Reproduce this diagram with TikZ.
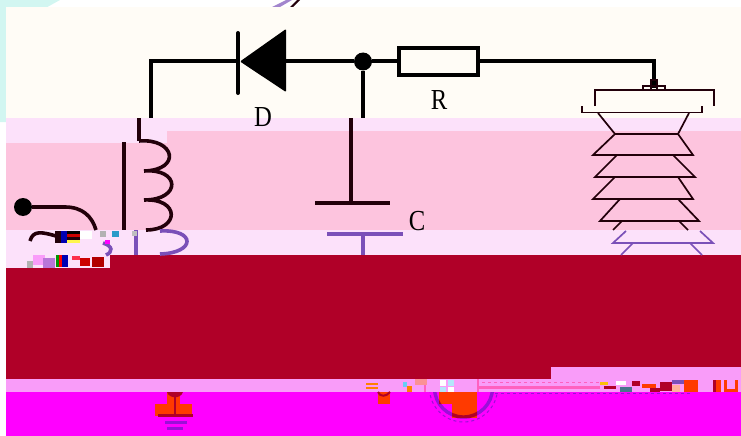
\documentclass[tikz,border=0pt]{standalone}
\usepackage{fontspec}
\setmainfont{Liberation Serif}
\definecolor{creamband}{HTML}{FFFCF6}
\definecolor{paleband}{HTML}{FCE1FA}
\definecolor{pinkband}{HTML}{FDC4DE}
\definecolor{redband}{HTML}{B00028}
\definecolor{lilacband}{HTML}{F99CF9}
\definecolor{magentaband}{HTML}{FF00FF}
\definecolor{paleside}{HTML}{D2F6F1}
\definecolor{wireviolet}{HTML}{7A50B8}
\definecolor{wiredark}{HTML}{22000A}
\definecolor{patchred}{HTML}{FF3A00}
\definecolor{groundviolet}{HTML}{9A10D8}
\definecolor{tracepink}{HTML}{FF60C0}
\tikzstyle{wire}=[line width=4pt, black]
\tikzstyle{darkwire}=[line width=3.6pt, wiredark]
\tikzstyle{violetwire}=[line width=3.6pt, wireviolet]
\tikzstyle{thinwire}=[line width=1.7pt, wiredark]
\tikzstyle{thinviolet}=[line width=1.7pt, wireviolet]
\tikzstyle{junction}=[circle, fill=black, draw=none, inner sep=0, minimum size=18pt]
\tikzstyle{resistor}=[draw, line width=4.5pt, fill=creamband, inner sep=0, minimum width=79pt, minimum height=27pt]
\tikzstyle{complabel}=[inner sep=0, transform shape, xscale=0.85, font=\fontsize{29}{29}\selectfont]
\tikzstyle{ring}=[circle, inner sep=0, line width=3.4pt, minimum size=58pt]
\begin{document}
\begin{tikzpicture}[x=1pt, y=-1pt]
        \useasboundingbox (0, 0) rectangle (741, 436);
        % Colour bands.
        \fill[paleside] (0, 0) -- (60, 0) -- (6, 30) -- (6, 122) -- (0, 122) -- cycle;
        \fill[creamband] (6, 7) rectangle (741, 118);
        \fill[paleband] (6, 118) rectangle (741, 143);
        \fill[pinkband] (167, 131) rectangle (741, 143);
        \fill[pinkband] (6, 143) rectangle (741, 230);
        \fill[paleband] (6, 230) rectangle (741, 255);
        \fill[paleband] (6, 255) rectangle (110, 268);
        \fill[redband] (110, 255) rectangle (741, 268);
        \fill[redband] (6, 268) rectangle (741, 379);
        \fill[lilacband] (6, 379) rectangle (741, 392);
        \fill[lilacband] (551, 367) rectangle (741, 379);
        \fill[magentaband] (6, 392) rectangle (741, 436);
        \fill[wireviolet!70!white] (272, 7) -- (286, 0) -- (292, 0) -- (280, 7) -- cycle;
        \fill[wiredark] (290, 7) -- (297, 0) -- (300, 0) -- (293, 7) -- cycle;
        % Upper wiring.
        \node[junction] (Dot) at (363, 61.5) {};
        \node[resistor] (Res) at (438.5, 61.5) {};
        \coordinate (DiodeBack) at (286, 61.5);
        \coordinate (DiodeTip) at (240, 61.5);
        \coordinate (LeftCorner) at (151, 61.5);
        \coordinate (LeftEnd) at (151, 118);
        \coordinate (DotEnd) at (363, 118);
        \coordinate (PostCorner) at (654, 61.5);
        \coordinate (PostEnd) at (654, 88);
        \draw[wire] (Dot) -- (DiodeBack);
        \draw[wire] (DiodeTip) -- (LeftCorner) -- (LeftEnd);
        \draw[wire] (Dot) -- (DotEnd);
        \draw[wire] (Dot) -- (Res);
        \draw[wire] (Res) -- (PostCorner) -- (PostEnd);
        \fill[black, rounded corners=1pt] (DiodeTip) -- (286, 29) -- (286, 92) -- cycle;
        \draw[wire, line cap=round] (238, 33) -- (238, 93);
        \node[complabel] (LabelD) at (263, 117) {D};
        \node[complabel] (LabelR) at (439, 100) {R};
        \node[complabel] (LabelC) at (417, 221) {C};
        % Coil and core.
        \coordinate (CoilTop) at (139, 118);
        \coordinate (CoilStart) at (139, 141);
        \coordinate (CoreTop) at (124, 142);
        \coordinate (CoreEnd) at (124, 230);
        \coordinate (CoreLow) at (136, 230);
        \coordinate (CoreLowEnd) at (136, 255);
        \draw[darkwire] (CoilTop) -- (CoilStart);
        \draw[darkwire] (CoilStart) .. controls (175, 138) and (182, 170) .. (144, 171)
            .. controls (180, 168) and (182, 200) .. (144, 200)
            .. controls (180, 198) and (180, 230) .. (146, 230);
        \draw[darkwire] (CoreTop) -- (CoreEnd);
        \draw[violetwire] (CoreLow) -- (CoreLowEnd);
        \draw[violetwire] (160, 231) .. controls (196, 229) and (196, 253) .. (160, 254);
        \draw[violetwire] (103, 243) .. controls (113, 246) and (113, 252) .. (106, 255);
        % Left terminal.
        \node[junction] (Terminal) at (23, 207) {};
        \coordinate (TerminalEnd) at (96, 230);
        \draw[darkwire] (Terminal) -- (65, 207) .. controls (82, 207) and (92, 216) .. (TerminalEnd);
        \coordinate (SquiggleStart) at (30, 241);
        \coordinate (SquiggleEnd) at (56, 236);
        \draw[darkwire] (SquiggleStart) .. controls (33, 230) and (42, 232) .. (SquiggleEnd);
        % Capacitor.
        \coordinate (CapTop) at (351, 118);
        \coordinate (PlateA) at (315, 203);
        \coordinate (PlateB) at (390, 203);
        \coordinate (PlateC) at (327, 234);
        \coordinate (PlateD) at (403, 234);
        \coordinate (CapBottom) at (363, 234);
        \coordinate (CapEnd) at (363, 255);
        \draw[darkwire] (CapTop) -- (351, 203);
        \draw[darkwire] (PlateA) -- (PlateB);
        \draw[violetwire] (PlateC) -- (PlateD);
        \draw[violetwire] (CapBottom) -- (CapEnd);
        % Insulator.
        \draw[thinwire] (643, 90) -- (643, 86) -- (665, 86) -- (665, 90);
        \draw[thinwire] (651, 90) -- (651, 80) -- (657, 80) -- (657, 90);
        \draw[thinwire] (595, 106) -- (595, 90) -- (714, 90) -- (714, 106);
        \draw[thinwire] (582, 106) -- (582, 112.5) -- (702, 112.5) -- (702, 106);
        \draw[thinwire] (598, 113) -- (615, 134) -- (678, 134) -- (689, 113);
        \draw[thinwire] (615, 134) -- (593, 155) -- (693, 155) -- (678, 134);
        \draw[thinwire] (617, 155) -- (595, 177) -- (695, 177) -- (673, 155);
        \draw[thinwire] (615, 177) -- (593, 199) -- (693, 199) -- (678, 177);
        \draw[thinwire] (620, 199) -- (600, 221) -- (699, 221) -- (678, 199);
        \draw[thinwire] (622, 221) -- (613, 230);
        \draw[thinwire] (679, 221) -- (688, 230);
        \draw[thinviolet] (626, 231) -- (613, 243) -- (713, 243) -- (700, 231);
        \draw[thinviolet] (633, 243) -- (621, 255);
        \draw[thinviolet] (690, 243) -- (702, 255);
        % Ground.
        \fill[patchred] (167, 392) rectangle (180, 404);
        \fill[patchred] (155, 404) rectangle (192, 416);
        \fill[redband] (167, 392) .. controls (169, 399) and (181, 399) .. (183, 392) -- cycle;
        \coordinate (GroundTop) at (175, 392);
        \coordinate (GroundBar) at (175, 416);
        \draw[line width=2.8pt, redband] (GroundTop) -- (GroundBar);
        \draw[line width=3pt, redband] (158, 415.5) -- (193, 415.5);
        \draw[line width=3pt, groundviolet] (165, 422) -- (187, 422);
        \draw[line width=3pt, groundviolet] (167, 428) -- (183, 428);
        % Lower circle and traces.
        \begin{scope}
            \clip (400, 392) rectangle (520, 436);
            \node[ring, draw=groundviolet] (Ring) at (463.5, 388) {};
            \node[circle, draw=groundviolet, dashed, line width=1pt, inner sep=0, minimum size=68pt] (RingOuter) at (463.5, 388) {};
        \end{scope}
        \fill[patchred] (439, 392) rectangle (477, 404);
        \fill[patchred] (452, 404) rectangle (477, 418);
        \begin{scope}
            \clip (439, 392) rectangle (477, 404) (452, 404) rectangle (477, 418);
            \node[ring, draw=redband] (RingPatch) at (463.5, 388) {};
        \end{scope}
        \draw[tracepink, line width=2.4pt] (478, 379) -- (478, 392);
        \draw[tracepink, line width=2.4pt] (478, 387.5) -- (600, 387.5);
        \draw[tracepink, dashed, line width=1pt] (482, 382) -- (600, 382);
        \draw[groundviolet, dashed, line width=1pt] (495, 393) -- (690, 393);
        \fill[patchred] (378, 392) rectangle (390, 404);
        \draw[line width=2pt, redband] (378, 392) .. controls (380, 397) and (386, 397) .. (390, 392);
        % Scrambled patches.
        \foreach \px/\py/\pw/\ph/\pc in {55/231/6/12/wiredark, 61/231/6/12/blue!70!black, 67/231/13/3/black, 67/234/13/3/red!80!black, 67/237/13/3/wiredark, 67/240/13/3/yellow!70!white,
            80/231/12/8/white, 100/231/6/6/gray!60!white, 112/231/7/6/cyan!80!black, 105/240/5/4/magentaband, 132/231/5/5/gray!50!white,
            27/261/6/7/gray!60!white, 33/255/12/10/lilacband, 43/258/12/10/wireviolet!50!lilacband, 56/255/3/12/green!60!black, 59/255/3/12/red, 62/255/6/12/blue!70!black, 72/256/8/4/red!70!lilacband, 80/258/10/8/red!80!black, 92/257/12/10/red!70!black,
            366/383/12/2/orange, 366/387/12/2/orange, 403/382/4/5/cyan!60!white, 407/386/5/6/orange, 415/379/12/6/orange!40!lilacband, 424/385/2/7/tracepink,
            440/380/6/6/white, 448/380/6/6/cyan!30!white, 440/387/6/5/cyan!30!white, 448/387/6/5/white,
            600/382/8/3/yellow!70!patchred, 604/386/12/3/redband, 616/381/10/4/white, 620/387/12/5/cyan!50!black, 632/381/8/5/redband, 642/384/14/4/patchred, 650/388/10/4/redband, 660/382/12/9/redband, 672/380/12/4/wireviolet, 672/385/8/7/white!60!patchred, 684/380/14/12/patchred,
            713/380/3/12/redband, 716/380/5/12/patchred, 724/380/14/12/patchred, 727/380/8/9/lilacband} {
            \fill[\pc] (\px, \py) rectangle +(\pw, \ph);
        }
\end{tikzpicture}
\end{document}
